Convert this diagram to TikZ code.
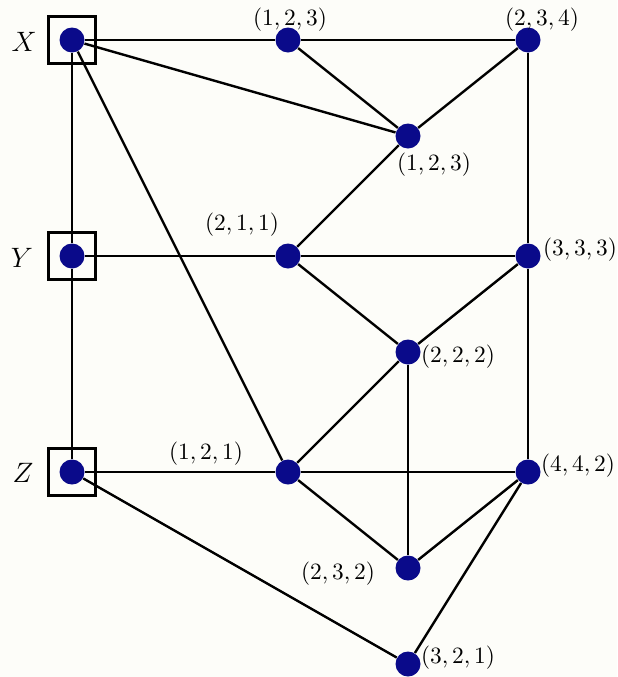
\documentclass[tikz,border=0pt]{standalone}
\definecolor{navydot}{RGB}{10,10,138}
\definecolor{bgcol}{RGB}{253,253,249}
\tikzset{
  dot/.style={circle,fill=navydot,draw=none,minimum size=10.7pt,inner sep=0pt},
  vbox/.style={draw=black,line width=1.1pt,minimum size=20.1pt,inner sep=0pt},
  edge/.style={draw=black,line width=1.03pt},
  lab/.style={inner sep=0pt},
  vlab/.style={inner sep=0pt,font=\large}
}
\begin{document}
\begin{tikzpicture}[x=0.428pt,y=-0.428pt]
\fill[bgcol] (0,0) rectangle (617,677);
\useasboundingbox (0,0) rectangle (617,677);
% boxes
\node[vbox] (xb) at (72,40) {};
\node[vbox] (yb) at (72,256) {};
\node[vbox] (zb) at (72,472) {};
% dots
\node[dot] (X) at (72,40) {};
\node[dot] (Y) at (72,256) {};
\node[dot] (Z) at (72,472) {};
\node[dot] (A) at (288,40) {};
\node[dot] (B) at (528,40) {};
\node[dot] (C) at (408,136) {};
\node[dot] (D) at (288,256) {};
\node[dot] (E) at (528,256) {};
\node[dot] (F) at (408,352) {};
\node[dot] (G) at (288,472) {};
\node[dot] (H) at (528,472) {};
\node[dot] (I) at (408,568) {};
\node[dot] (J) at (408,664) {};
% edges
\draw[edge] (X) -- (A);
\draw[edge] (A) -- (B);
\draw[edge] (X) -- (C);
\draw[edge] (A) -- (C);
\draw[edge] (C) -- (B);
\draw[edge] (X) -- (Y);
\draw[edge] (X) -- (G);
\draw[edge] (Y) -- (Z);
\draw[edge] (Y) -- (D);
\draw[edge] (D) -- (C);
\draw[edge] (D) -- (E);
\draw[edge] (D) -- (F);
\draw[edge] (B) -- (E);
\draw[edge] (E) -- (F);
\draw[edge] (E) -- (H);
\draw[edge] (F) -- (G);
\draw[edge] (F) -- (I);
\draw[edge] (Z) -- (G);
\draw[edge] (G) -- (H);
\draw[edge] (G) -- (I);
\draw[edge] (I) -- (H);
\draw[edge] (H) -- (J);
\draw[edge] (Z) -- (J);
% labels
\node[vlab] (lx) at (24,42) {$X$};
\node[vlab] (ly) at (22,258) {$Y$};
\node[vlab] (lz) at (23,473) {$Z$};
\node[lab] (la) at (290,20) {$(1,2,3)$};
\node[lab] (lb) at (542,20) {$(2,3,4)$};
\node[lab] (lc) at (434,165) {$(1,2,3)$};
\node[lab] (ld) at (242,225) {$(2,1,1)$};
\node[lab] (le) at (580,250) {$(3,3,3)$};
\node[lab] (lf) at (458,357) {$(2,2,2)$};
\node[lab] (lg) at (206,454) {$(1,2,1)$};
\node[lab] (lh) at (578,466) {$(4,4,2)$};
\node[lab] (li) at (338,574) {$(2,3,2)$};
\node[lab] (lj) at (458,658) {$(3,2,1)$};
\end{tikzpicture}
\end{document}
